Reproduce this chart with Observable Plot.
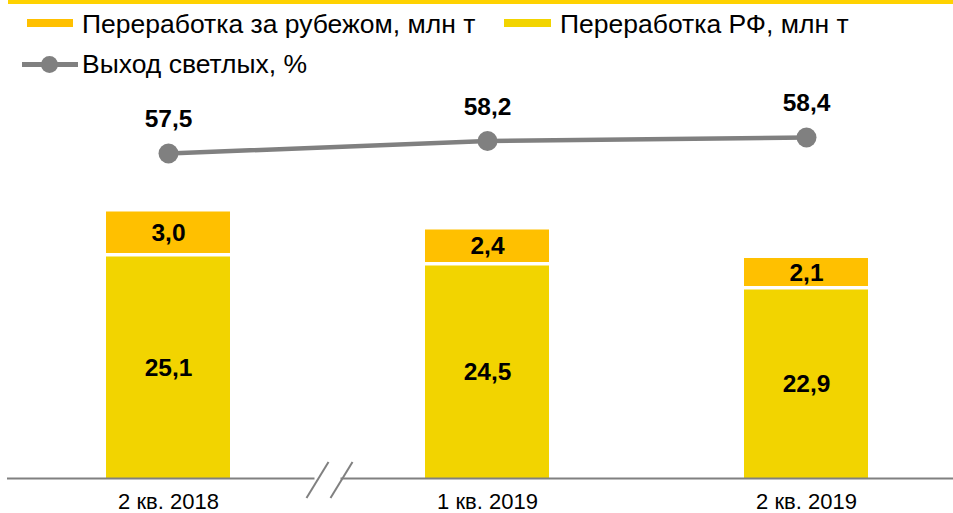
<!DOCTYPE html>
<html>
<head>
<meta charset="utf-8">
<script src="https://cdn.jsdelivr.net/npm/d3@7"></script>
<script src="https://cdn.jsdelivr.net/npm/@observablehq/plot@0.6"></script>
<style>
  html, body { margin: 0; padding: 0; background: #fff; }
  body { width: 953px; height: 513px; overflow: hidden; font-family: "Liberation Sans", Arial, sans-serif; }
  #legend { position: relative; width: 953px; height: 90px; }
  #legend .abs { position: absolute; }
  #legend .txt { font-size: 26.5px; color: #000; line-height: 1; white-space: nowrap; }
  #chart { position: relative; width: 953px; height: 423px; }
  #chart svg { position: absolute; left: 0; top: 0; }
</style>
</head>
<body>
<div id="legend"></div>
<div id="chart"></div>
<script>
// ---- data ----
const categories = ["2 кв. 2018", "1 кв. 2019", "2 кв. 2019"];
const refiningRF = [25.1, 24.5, 22.9];       // Переработка РФ, млн т
const refiningAbroad = [3.0, 2.4, 2.1];      // Переработка за рубежом, млн т
const lightYield = [57.5, 58.2, 58.4];       // Выход светлых, %
const seriesNames = ["Переработка за рубежом, млн т", "Переработка РФ, млн т", "Выход светлых, %"];

// ---- styles ----
const colAbroad = "#FFC000";
const colRF = "#F2D400";
const colLine = "#808080";
const fmt = v => v.toFixed(1).replace(".", ",");

// ---- legend (HTML) ----
const legend = document.getElementById("legend");
legend.innerHTML = `
  <div class="abs" style="left:8px;top:0;width:945px;height:4px;background:#FFD200"></div>
  <div class="abs" style="left:27px;top:19px;width:46px;height:8px;background:${colAbroad}"></div>
  <div class="abs txt" style="left:82px;top:10.5px">${seriesNames[0]}</div>
  <div class="abs" style="left:504px;top:19px;width:47px;height:8px;background:${colRF}"></div>
  <div class="abs txt" style="left:560px;top:10.5px">${seriesNames[1]}</div>
  <div class="abs" style="left:22px;top:62px;width:56px;height:5px;background:${colLine}"></div>
  <div class="abs" style="left:41px;top:56px;width:17px;height:17px;border-radius:50%;background:${colLine}"></div>
  <div class="abs txt" style="left:82px;top:50.5px">${seriesNames[2]}</div>
`;

// ---- shared geometry ----
const W = 953, H = 423;
const yBase = 10.333;   // value at the baseline of the (broken) bar axis
const xOpts = {domain: categories, range: [8.5, 965.5], paddingInner: 0.6113, paddingOuter: 0.3056, axis: null, label: null};
const margins = {marginTop: 0, marginBottom: 35, marginLeft: 7, marginRight: 0};

const rfRows = categories.map((c, i) => ({cat: c, y1: yBase, y2: refiningRF[i], v: refiningRF[i], series: seriesNames[1]}));
const abRows = categories.map((c, i) => ({cat: c, y1: refiningRF[i], y2: refiningRF[i] + refiningAbroad[i], v: refiningAbroad[i], series: seriesNames[0]}));

const labelStyle = {fontSize: 24.5, fontWeight: "bold", fill: "#000", lineAnchor: "middle"};

const bars = Plot.plot({
  width: W, height: H, ...margins,
  style: {fontFamily: "Liberation Sans, Arial, sans-serif", background: "transparent"},
  x: xOpts,
  y: {domain: [yBase, 36.2], axis: null, label: null},
  color: {domain: [seriesNames[0], seriesNames[1]], range: [colAbroad, colRF]},
  marks: [
    Plot.rectY(rfRows, {x: "cat", y1: "y1", y2: "y2", fill: "series"}),
    Plot.rectY(abRows, {x: "cat", y1: "y1", y2: "y2", fill: "series", insetBottom: 3.5}),
    Plot.text(rfRows, {x: "cat", y: d => (d.y1 + d.y2) / 2, text: d => fmt(d.v), ...labelStyle}),
    Plot.text(abRows, {x: "cat", y: d => (d.y1 + d.y2) / 2, dy: -1.5, text: d => fmt(d.v), ...labelStyle}),
    Plot.ruleY([yBase], {stroke: colLine, strokeWidth: 2.2}),
    Plot.axisX({tickSize: 0, tickPadding: 15, fontSize: 22, fill: "#000", label: null})
  ]
});

const line = Plot.plot({
  width: W, height: H, ...margins,
  style: {fontFamily: "Liberation Sans, Arial, sans-serif", background: "transparent"},
  x: xOpts,
  y: {domain: [39.24, 61.04], axis: null, label: null},
  marks: [
    Plot.line(categories, {x: d => d, y: (d, i) => lightYield[i], stroke: colLine, strokeWidth: 4.5}),
    Plot.dot(categories, {x: d => d, y: (d, i) => lightYield[i], r: 10, fill: colLine}),
    Plot.text(categories, {x: d => d, y: (d, i) => lightYield[i], text: (d, i) => fmt(lightYield[i]),
      dy: -34, ...labelStyle})
  ]
});

const chart = document.getElementById("chart");
chart.appendChild(bars);
chart.appendChild(line);

// ---- axis break marks, placed with the plot's own scales ----
const xs = bars.scale("x"), ys = bars.scale("y");
const bw = xs.bandwidth ?? 0;
const cx0 = xs.apply(categories[0]) + bw / 2, cx1 = xs.apply(categories[1]) + bw / 2;
const mid = (cx0 + cx1) / 2 + 2;
const yAx = ys.apply(yBase);
const svg = d3.select(bars);
svg.append("rect").attr("x", mid - 15).attr("y", yAx - 3).attr("width", 26).attr("height", 6).attr("fill", "#fff");
[-12, 12].forEach(off => {
  svg.append("line")
    .attr("x1", mid + off + 11).attr("y1", yAx - 16)
    .attr("x2", mid + off - 11).attr("y2", yAx + 20)
    .attr("stroke", colLine).attr("stroke-width", 2);
});
</script>
</body>
</html>
